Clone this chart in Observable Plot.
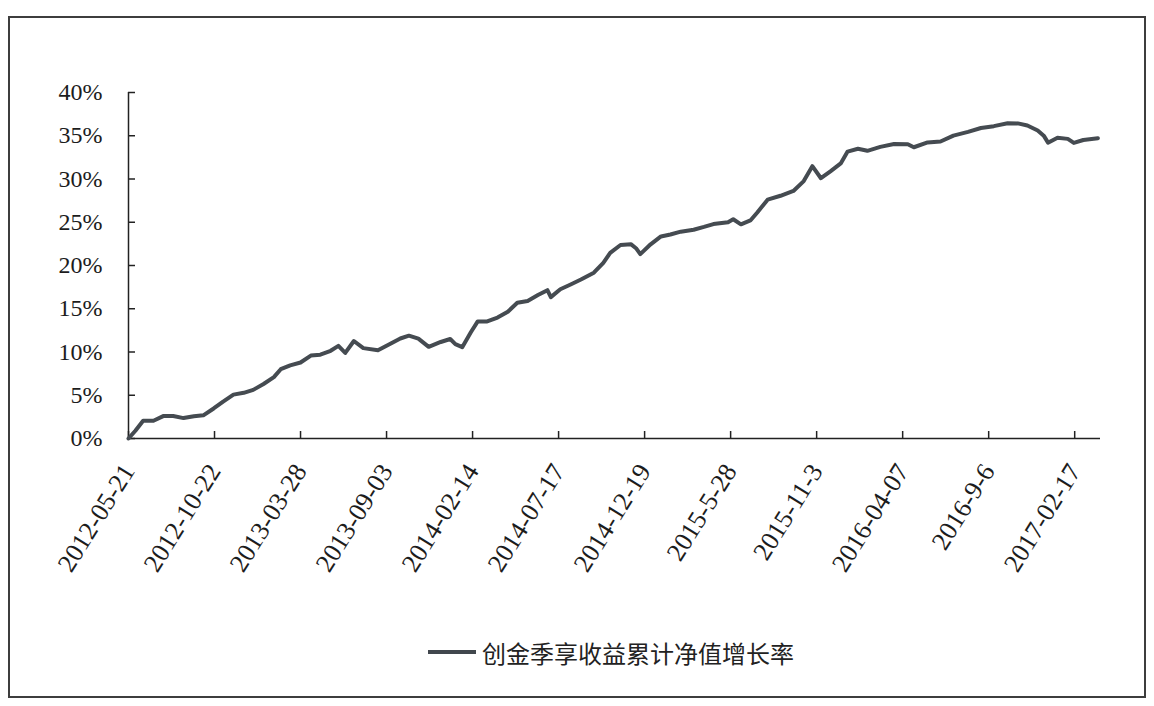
<!DOCTYPE html>
<html>
<head>
<meta charset="utf-8">
<script src="https://cdn.jsdelivr.net/npm/d3@7"></script>
<script src="https://cdn.jsdelivr.net/npm/@observablehq/plot@0.6"></script>
<style>
html, body { margin: 0; padding: 0; background: #fff; width: 1154px; height: 706px; overflow: hidden; }
#frame { position: absolute; left: 8px; top: 16px; width: 1138px; height: 682px; border: 2px solid #3d3d3d; box-sizing: border-box; }
#chart { position: absolute; left: 0; top: 0; }
#legend { position: absolute; left: 428px; top: 636px; height: 32px; display: flex; align-items: center;
  font-family: "Noto Sans CJK SC", sans-serif; font-size: 24px; color: #222; white-space: nowrap; }
#legend .sw { display: inline-block; width: 48px; height: 4px; background: #41474d; margin-right: 6px; }
</style>
</head>
<body>
<div id="frame"></div>
<div id="chart"></div>
<div id="legend"><span class="sw"></span><span>创金季享收益累计净值增长率</span></div>
<script>
// Category-axis tick labels (one label every tickStep positions)
const tickLabels = ["2012-05-21", "2012-10-22", "2013-03-28", "2013-09-03", "2014-02-14", "2014-07-17",
                    "2014-12-19", "2015-5-28", "2015-11-3", "2016-04-07", "2016-9-6", "2017-02-17"];
const tickStep = 100;
const yTicks = [0, 5, 10, 15, 20, 25, 30, 35, 40];

// Position along the category axis
const idx = [0, 8, 17, 29, 41, 52, 64, 76, 87, 99, 110, 122, 134, 145, 157, 169, 177, 188, 200, 212,
  223, 235, 244, 252, 262, 273, 290, 305, 316, 326, 337, 349, 363, 374, 380, 388, 398, 406, 417, 429,
  441, 452, 464, 476, 487, 491, 502, 514, 526, 541, 552, 560, 572, 584, 590, 595, 607, 619, 630, 642,
  657, 669, 680, 697, 703, 712, 723, 731, 743, 758, 773, 785, 795, 805, 816, 828, 836, 848, 859, 874,
  890, 906, 913, 929, 944, 959, 976, 991, 1006, 1022, 1034, 1045, 1057, 1064, 1069, 1080, 1092, 1099, 1110, 1127];
// Cumulative NAV growth rate (%)
const growth = [0, 0.9, 2.06, 2.05, 2.61, 2.6, 2.36, 2.58, 2.68, 3.47, 4.27, 5.07, 5.28, 5.62, 6.3, 7.09, 8.01, 8.46, 8.79, 9.59,
  9.69, 10.14, 10.71, 9.89, 11.27, 10.45, 10.2, 10.99, 11.56, 11.89, 11.54, 10.6, 11.16, 11.5, 10.91, 10.56, 12.28, 13.54, 13.53, 13.98,
  14.66, 15.69, 15.9, 16.58, 17.15, 16.34, 17.25, 17.81, 18.38, 19.17, 20.31, 21.46, 22.37, 22.47, 22.0, 21.31, 22.45, 23.36, 23.58, 23.91,
  24.13, 24.46, 24.79, 25.01, 25.35, 24.76, 25.21, 26.13, 27.61, 28.06, 28.62, 29.76, 31.48, 30.09, 30.88, 31.8, 33.17, 33.5, 33.26, 33.71,
  34.04, 34.02, 33.67, 34.23, 34.33, 35.01, 35.45, 35.9, 36.11, 36.44, 36.43, 36.19, 35.6, 35.01, 34.2, 34.77, 34.64, 34.17, 34.51, 34.72];

const data = idx.map((x, i) => ({x, y: growth[i]}));
const tickPos = tickLabels.map((_, i) => i * tickStep);

const chart = Plot.plot({
  width: 1154,
  height: 620,
  marginTop: 92,
  marginBottom: 182,
  marginLeft: 128,
  marginRight: 54,
  style: {fontFamily: "'Liberation Serif', serif", fontSize: "24px", color: "#1c1c1c", background: "transparent", overflow: "visible"},
  x: {domain: [0, 1130], label: null},
  y: {domain: [0, 40], label: null},
  marks: [
    Plot.ruleY([0], {x1: 0, x2: 1130, stroke: "#222", strokeWidth: 1.5}),
    Plot.ruleX([0], {y1: 0, y2: 40, stroke: "#222", strokeWidth: 1.5}),
    Plot.axisY(yTicks, {anchor: "left", tickSize: 7, dx: 7, tickFormat: () => "", stroke: "#222", strokeWidth: 1.5}),
    Plot.axisY(yTicks, {anchor: "left", tickSize: 0, tickPadding: 26, tickFormat: d => d + "%"}),
    Plot.axisX(tickPos, {anchor: "bottom", tickSize: 7, dy: -7, tickFormat: () => "", stroke: "#222", strokeWidth: 1.5}),
    Plot.axisX(tickPos, {anchor: "bottom", tickSize: 0, tickPadding: 28, tickRotate: -58, fontSize: 26,
      tickFormat: d => tickLabels[Math.round(d / tickStep)], style: {letterSpacing: "2.5px"}}),
    Plot.line(data, {x: "x", y: "y", stroke: "#454b51", strokeWidth: 4, strokeLinejoin: "round"})
  ]
});
document.getElementById("chart").appendChild(chart);
</script>
</body>
</html>
